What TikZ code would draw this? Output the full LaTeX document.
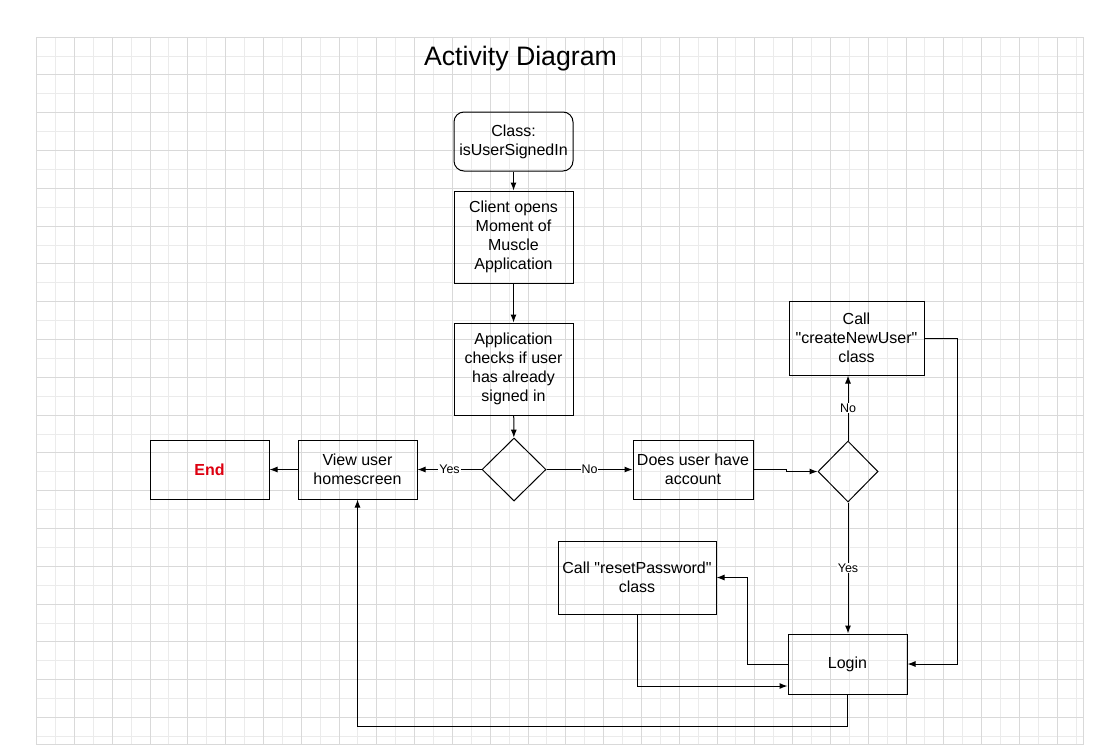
\documentclass[tikz,border=0pt]{standalone}
\usepackage{fontspec}
\setmainfont{Liberation Sans}
\usepackage{tikz}
\usetikzlibrary{calc, arrows.meta, positioning, shapes.geometric}
\usepackage{xcolor}
\definecolor{gridminor}{HTML}{EBEBEB}
\definecolor{gridmajor}{HTML}{D9D9D9}
\definecolor{endred}{HTML}{DD0010}
\newcommand{\boxfont}{\fontsize{16}{19.2}\selectfont}
\newcommand{\lblfont}{\fontsize{12.5}{15}\selectfont}

\begin{document}
\begin{tikzpicture}[x=1pt, y=-1pt, >={Latex[length=8pt,width=6pt]}]
				\tikzstyle{box} = [draw=black, line width=1, rectangle, minimum width=119, minimum height=59, align=center, font=\boxfont, inner sep=2]
				\tikzstyle{decide} = [draw=black, line width=1, diamond, minimum width=64, minimum height=63, inner sep=0]
				\tikzstyle{lbl} = [fill=white, font=\lblfont, inner sep=1]
				\tikzstyle{flow} = [->, line width=1]
				
				\useasboundingbox (0,0) rectangle (1094,744);
				% background grid
				\foreach \i in {0,...,55}
					\draw[gridminor, line width=0.8] ({36.5+18.9*\i},37) -- ({36.5+18.9*\i},744);
				\foreach \j in {0,...,37}
					\draw[gridminor, line width=0.8] (36.5,{37+18.9*\j}) -- (1083,{37+18.9*\j});
				\foreach \i in {0,2,...,54}
					\draw[gridmajor, line width=0.8] ({36.5+18.9*\i},37) -- ({36.5+18.9*\i},744);
				\foreach \j in {0,2,...,36}
					\draw[gridmajor, line width=0.8] (36.5,{37+18.9*\j}) -- (1083,{37+18.9*\j});
				\draw[gridmajor, line width=0.8] (36.5,37) rectangle (1083,744);
				
				\node[font=\fontsize{26.7}{32}\selectfont]	at (520.5, 59)		(title)	{Activity Diagram};
				\node[box, rounded corners=10] 	at (513.5, 141.5) 	(cls) 	{Class:\\isUserSignedIn};
				\node[box, minimum height=92] 	at (513.5, 237) 	(open) 	{Client opens\\Moment of\\Muscle\\Application};
				\node[box, minimum height=92] 	at (513.5, 369) 	(check) {Application\\checks if user\\has already\\signed in};
				\node[decide] 					at (514, 469.5) 	(d1) 	{};
				\node[box] 						at (357.5, 469.5) 	(view) 	{View user\\homescreen};
				\node[box, font=\boxfont\bfseries, text=endred] at (209.5, 469.5) (fin) {End};
				\node[box, minimum width=120] 	at (693, 469.5) 	(acc) 	{Does user have\\account};
				\node[decide, minimum width=60, minimum height=61] at (848, 471.5) (d2) {};
				\node[box, minimum width=135, minimum height=74] at (856.5, 338) (newu) {Call\\\textquotedbl createNewUser\textquotedbl\\class};
				\node[box, minimum width=158, minimum height=73] at (637, 577.5) (reset) {Call \textquotedbl resetPassword\textquotedbl\\class};
				\node[box, minimum height=60] 	at (847.5, 664) 	(login) {Login};
				
				\path[flow]
				(cls)	edge					(open)
				(open)	edge					(check)
				(check)	edge					(d1)
				(d1.west)	edge	node[lbl] {Yes}	(view.east)
				(d1.east)	edge	node[lbl] {No}	(acc.west)
				(view)	edge					(fin)
				(d2.north)	edge	node[lbl] {No}	(d2.north |- newu.south)
				(d2.south)	edge	node[lbl] {Yes}	(d2.south |- login.north);
				
				\draw[flow] (acc.east) -- ++(33,0) |- (d2.west);
				\draw[flow] (newu.east) -- ++(33,0) |- (login.east);
				\draw[flow] (login.west) -- ++(-40,0) |- (reset.east);
				\draw[flow] (reset.south) |- ($(login.west)+(0,22)$);
				\draw[flow] (login.south) -- ++(0,32) -| (view.south);
			\end{tikzpicture}
\end{document}
